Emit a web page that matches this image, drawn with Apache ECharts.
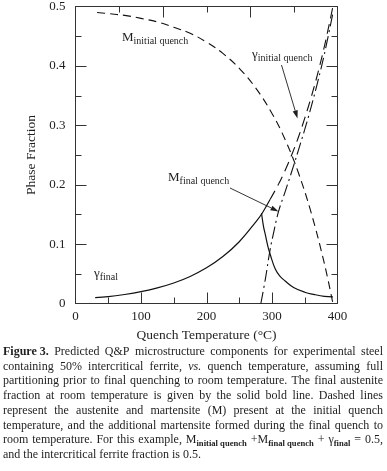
<!DOCTYPE html>
<html><head><meta charset="utf-8">
<script src="https://cdn.jsdelivr.net/npm/echarts@6.0.0/dist/echarts.min.js"></script>
<style>html,body{margin:0;padding:0;background:#fff}#c{width:387px;height:471px}</style>
</head><body><div id="c"></div>
<script>
// ---- data ----
const xTicks = [0, 100, 200, 300, 400];
const xMinorTicks = [50, 150, 250, 350];
const topTicksMajor = [400 / 3, 800 / 3];
const topTicksMinor = [400 / 6, 200, 2000 / 6];
const yTicks = [0, 0.1, 0.2, 0.3, 0.4, 0.5];
const yMinorTicks = [0.05, 0.15, 0.25, 0.35, 0.45];

const mInitialT = [33, 50, 75, 100, 125, 150, 175, 200, 225, 250, 275, 300, 320, 340, 360, 380, 393];
const mInitialV = [0.490, 0.488, 0.485, 0.480, 0.474, 0.465, 0.455, 0.440, 0.421, 0.396, 0.363, 0.320, 0.276, 0.221, 0.152, 0.067, 0.0];

const gFinalLowT = [30, 50, 75, 100, 125, 150, 175, 200, 225, 250, 275, 285, 297];
const gFinalLowV = [0.010, 0.0115, 0.0152, 0.020, 0.0263, 0.0345, 0.0455, 0.060, 0.079, 0.104, 0.137, 0.152, 0.175];

const gInitialT = [297, 310, 320, 330, 340, 350, 360, 370, 380, 390, 393];
const gInitialV = [0.175, 0.201, 0.224, 0.250, 0.279, 0.312, 0.348, 0.388, 0.433, 0.484, 0.500];

const gFinalHighT = [284, 287, 290, 294, 298, 305, 312, 320, 333, 350, 365, 380, 393];
const gFinalHighV = [0.152, 0.130, 0.115, 0.095, 0.080, 0.058, 0.046, 0.038, 0.027, 0.019, 0.015, 0.012, 0.011];

const mFinalT = [283, 290, 297, 303, 310, 320, 333, 340, 350, 360, 370, 380, 393];
const mFinalV = [0.0, 0.042, 0.090, 0.122, 0.155, 0.188, 0.232, 0.257, 0.293, 0.332, 0.374, 0.420, 0.489];

const captionLines = [
  [[['Figure 3.', 'b']], [['Predicted', 'n']], [['Q&P', 'n']], [['microstructure', 'n']], [['components', 'n']], [['for', 'n']], [['experimental', 'n']], [['steel', 'n']]],
  'containing 50% intercritical ferrite, |vs.| quench temperature, assuming full',
  'partitioning prior to final quenching to room temperature. The final austenite',
  'fraction at room temperature is given by the solid bold line. Dashed lines',
  'represent the austenite and martensite (M) present at the initial quench',
  'temperature, and the additional martensite formed during the final quench to',
  [[['room', 'n']], [['temperature.', 'n']], [['For', 'n']], [['this', 'n']], [['example,', 'n']],
   [['M', 'n'], ['initial quench', 's']], [['+M', 'n'], ['final quench', 's']], [['+', 'n']],
   [['γ', 'n'], ['final', 's']], [['=', 'n']], [['0.5,', 'n']]],
  'and the intercritical ferrite fraction is 0.5.'
];

const zip = (a, b) => a.map((v, i) => [v, b[i]]);
const SERIF = "'Liberation Serif', 'DejaVu Serif', serif";
const INK = '#1e1e1e';
const AXIS = '#333';

const chart = echarts.init(document.getElementById('c'), null, {renderer: 'canvas'});

// ---- caption layout (justified) ----
const cv = document.createElement('canvas');
const ctx = cv.getContext('2d');
const fonts = {
  n: {size: 12, weight: 'normal', style: 'normal', dy: 0},
  b: {size: 12, weight: 'bold', style: 'normal', dy: 0},
  i: {size: 12, weight: 'normal', style: 'italic', dy: 0},
  s: {size: 8.6, weight: 'bold', style: 'normal', dy: 3.5}
};
function fontStr(k) { const f = fonts[k]; return f.style + ' ' + f.weight + ' ' + f.size + 'px ' + SERIF; }
function measure(t, k) { ctx.font = fontStr(k); return ctx.measureText(t).width; }
function parseLine(str) {
  return str.split(' ').map(w => {
    if (w.startsWith('|') && w.endsWith('|')) return [[w.slice(1, -1), 'i']];
    return [[w, 'n']];
  });
}
const capLeft = 3, capWidth = 380, capTop = 351.7, capStep = 14.75;
const captionEls = [];
captionLines.forEach((ln, li) => {
  const toks = typeof ln === 'string' ? parseLine(ln) : ln;
  const widths = toks.map(t => t.reduce((s, seg) => s + measure(seg[0], seg[1]), 0));
  const total = widths.reduce((a, b) => a + b, 0);
  const last = li === captionLines.length - 1;
  const gap = last ? measure(' ', 'n') : (capWidth - total) / (toks.length - 1);
  let x = capLeft;
  const y = capTop + li * capStep;
  toks.forEach((t, ti) => {
    let sx = x;
    t.forEach(seg => {
      const f = fonts[seg[1]];
      captionEls.push({
        type: 'text', x: sx, y: y + f.dy, silent: true,
        style: {text: seg[0], fill: INK, font: fontStr(seg[1]), textVerticalAlign: 'middle', textAlign: 'left'}
      });
      sx += measure(seg[0], seg[1]);
    });
    x += widths[ti] + gap;
  });
});

// ---- annotations ----
function label(x, y, main, sub) {
  ctx.font = '13px ' + SERIF;
  const mw = ctx.measureText(main).width;
  return [
    {type: 'text', x: x, y: y, silent: true,
     style: {text: main, fill: INK, font: '13px ' + SERIF, textVerticalAlign: 'middle'}},
    {type: 'text', x: x + mw, y: y + 3, silent: true,
     style: {text: sub, fill: INK, font: '10px ' + SERIF, textVerticalAlign: 'middle'}}
  ];
}
function arrow(x1, y1, x2, y2) {
  const ang = Math.atan2(y2 - y1, x2 - x1), L = 8, W = 2.6;
  const bx = x2 - L * Math.cos(ang), by = y2 - L * Math.sin(ang);
  const px = -Math.sin(ang) * W, py = Math.cos(ang) * W;
  return [
    {type: 'line', silent: true, shape: {x1: x1, y1: y1, x2: bx, y2: by}, style: {stroke: INK, lineWidth: 0.9}},
    {type: 'polygon', silent: true, shape: {points: [[x2, y2], [bx + px, by + py], [bx - px, by - py]]}, style: {fill: INK}}
  ];
}
const annot = [].concat(
  label(122, 38, 'M', 'initial quench'),
  label(252, 55, 'γ', 'initial quench'),
  label(168, 178, 'M', 'final quench'),
  label(94, 274, 'γ', 'final'),
  arrow(281.5, 65, 297.5, 118.5),
  arrow(230, 188, 278.5, 211.5)
);

function axisBase(zeroIdx, extra) {
  const base = {
    axisLine: {show: true, onZero: true, onZeroAxisIndex: zeroIdx, lineStyle: {color: AXIS, width: 1}},
    splitLine: {show: false},
    axisTick: {show: false},
    minorTick: {show: false}
  };
  return Object.assign(base, extra);
}

const lineSeries = (name, t, v, type, w) => ({
  type: 'line', name: name, data: zip(t, v), showSymbol: false, symbol: 'none',
  smooth: 0.4, xAxisIndex: 0, yAxisIndex: 0, silent: true,
  lineStyle: {color: '#111', width: w, type: type}, z: 3
});

chart.setOption({
  animation: false,
  backgroundColor: '#fff',
  grid: {left: 75.5, right: 49.5, top: 4, bottom: 167.5, containLabel: false},
  xAxis: [
    axisBase(0, {
      type: 'value', position: 'bottom', min: xTicks[0], max: xTicks[xTicks.length - 1], interval: 100,
      axisLabel: {color: INK, fontFamily: SERIF, fontSize: 13, margin: 7},
      name: 'Quench Temperature (°C)', nameLocation: 'middle', nameGap: 21,
      nameTextStyle: {color: INK, fontFamily: SERIF, fontSize: 13.5}
    }),
    axisBase(1, {
      type: 'value', position: 'top', min: -3, max: 0, interval: 1,
      axisLabel: {show: false}
    })
  ],
  yAxis: [
    axisBase(0, {
      type: 'value', position: 'left', min: yTicks[0], max: yTicks[yTicks.length - 1], interval: 0.1,
      axisLabel: {color: INK, fontFamily: SERIF, fontSize: 13, margin: 10},
      name: 'Phase Fraction', nameLocation: 'middle', nameGap: 31, nameRotate: 90,
      nameTextStyle: {color: INK, fontFamily: SERIF, fontSize: 13.5}
    }),
    axisBase(1, {
      type: 'value', position: 'right', min: -0.5, max: 0, interval: 0.1,
      axisLabel: {show: false}
    })
  ],
  series: [
    lineSeries('M initial quench', mInitialT, mInitialV, [8, 5], 1.1),
    lineSeries('gamma final (low)', gFinalLowT, gFinalLowV, 'solid', 1.2),
    lineSeries('gamma initial quench', gInitialT, gInitialV, [10, 6], 1.1),
    lineSeries('gamma final (high)', gFinalHighT, gFinalHighV, 'solid', 1.2),
    lineSeries('M final quench', mFinalT, mFinalV, [12, 4, 2, 4], 1.1)
  ]
});

// ---- inward frame ticks, placed through the chart's own scales ----
const px = v => chart.convertToPixel({xAxisIndex: 0}, v);
const py = v => chart.convertToPixel({yAxisIndex: 0}, v);
const xL = px(0), xR = px(400), yB = py(0), yT = py(0.5);
const tickEls = [];
function tick(x1, y1, x2, y2) {
  tickEls.push({type: 'line', silent: true, z: 10,
    shape: {x1: x1, y1: y1, x2: x2, y2: y2}, style: {stroke: AXIS, lineWidth: 1}});
}
const MAJ = 11, MIN = 6;
yTicks.slice(1, -1).forEach(v => { const y = Math.round(py(v)) + 0.5; tick(xL, y, xL + MAJ, y); tick(xR, y, xR - MAJ, y); });
yMinorTicks.forEach(v => { const y = Math.round(py(v)) + 0.5; tick(xL, y, xL + MIN, y); tick(xR, y, xR - MIN, y); });
xTicks.slice(1, -1).forEach(v => { const x = Math.round(px(v)) + 0.5; tick(x, yB, x, yB - MAJ); });
xMinorTicks.forEach(v => { const x = Math.round(px(v)) + 0.5; tick(x, yB, x, yB - MIN); });
topTicksMajor.forEach(v => { const x = Math.round(px(v)) + 0.5; tick(x, yT, x, yT + MAJ); });
topTicksMinor.forEach(v => { const x = Math.round(px(v)) + 0.5; tick(x, yT, x, yT + MIN); });

chart.setOption({graphic: tickEls.concat(annot, captionEls)});
</script>
</body></html>
